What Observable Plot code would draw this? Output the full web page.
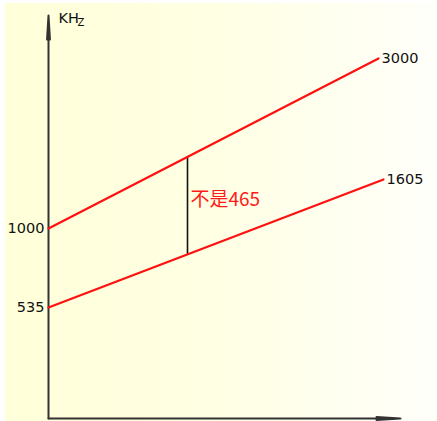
<!DOCTYPE html>
<html>
<head>
<meta charset="utf-8">
<script src="https://cdn.jsdelivr.net/npm/d3@7"></script>
<script src="https://cdn.jsdelivr.net/npm/@observablehq/plot@0.6"></script>
<style>
  html, body { margin: 0; padding: 0; background: #fff; }
  #wrap { position: relative; width: 437px; height: 421px; overflow: hidden; }
  #bg { position: absolute; left: 5px; top: 3px; width: 432px; height: 418px;
        background: linear-gradient(to right, #ffffd9 0%, #ffffe4 50%, #fffffa 100%); }
  #chart { position: absolute; left: 0; top: 0; }
  #chart svg { background: transparent; overflow: visible; }
</style>
</head>
<body>
<div id="wrap"><div id="bg"></div><div id="chart"></div></div>
<script>
// Schematic units (horizontal position, vertical position)
const lineNames = ["upper", "lower"];
const startX = [0, 0];
const endX = [330, 335];
const startY = [190, 111];     // left-end heights
const endY = [360, 239];       // right-end heights
const startLabels = ["1000", "535"];
const endLabels = ["3000", "1605"];

const gapX = 139;
const gapTop = 262;
const gapBottom = 164;
const gapLabel = "不是465";
const gapLabelX = 142;
const gapLabelY = 219;

const unitMain = "KH";
const unitSub = "Z";
const unitX = 10;
const unitY = 400;

const axisMaxX = 352;
const axisMaxY = 403;

const segs = [];
lineNames.forEach((n, i) => {
  segs.push({name: n, x: startX[i], y: startY[i]});
  segs.push({name: n, x: endX[i], y: endY[i]});
});
const startPts = lineNames.map((n, i) => ({x: startX[i], y: startY[i], label: startLabels[i]}));
const endPts = lineNames.map((n, i) => ({x: endX[i], y: endY[i], label: endLabels[i]}));

const numFont = "'DejaVu Sans', 'Liberation Sans', sans-serif";

const chart = Plot.plot({
  width: 437,
  height: 421,
  marginLeft: 48,
  marginRight: 37,
  marginTop: 15,
  marginBottom: 3,
  x: {domain: [0, axisMaxX], axis: null},
  y: {domain: [0, axisMaxY], axis: null},
  style: {background: "transparent"},
  marks: [
    // axes with arrows
    Plot.arrow([{x1: 0, y1: 0, x2: 0, y2: axisMaxY}], {
      x1: "x1", y1: "y1", x2: "x2", y2: "y2",
      stroke: "#333", strokeWidth: 2, headLength: 18, headAngle: 7
    }),
    Plot.arrow([{x1: 0, y1: 0, x2: axisMaxX, y2: 0}], {
      x1: "x1", y1: "y1", x2: "x2", y2: "y2",
      stroke: "#333", strokeWidth: 2, headLength: 18, headAngle: 7
    }),
    // gap line
    Plot.ruleX([gapX], {y1: gapBottom, y2: gapTop, stroke: "#111", strokeWidth: 1.6}),
    // red lines
    Plot.line(segs, {x: "x", y: "y", z: "name", stroke: "#ff1010", strokeWidth: 2.2}),
    // labels
    Plot.text(startPts, {x: "x", y: "y", text: "label", textAnchor: "end", dx: -4,
      fontSize: 14.5, fontFamily: numFont, fill: "#111"}),
    Plot.text(endPts, {x: "x", y: "y", text: "label", textAnchor: "start", dx: 3,
      fontSize: 14.5, fontFamily: numFont, fill: "#111"}),
    Plot.text([gapLabel], {x: gapLabelX, y: gapLabelY, text: d => d, textAnchor: "start",
      fontSize: 19, fontFamily: "'Noto Sans CJK SC', sans-serif", fill: "#ff1a1a"}),
    Plot.text([unitMain], {x: unitX, y: unitY, text: d => d, textAnchor: "start",
      fontSize: 14.5, fontFamily: numFont, fill: "#111"}),
    Plot.text([unitSub], {x: unitX, y: unitY, text: d => d, textAnchor: "start", dx: 19, dy: 4,
      fontSize: 10, fontFamily: numFont, fill: "#111"})
  ]
});
document.getElementById("chart").appendChild(chart);
</script>
</body>
</html>
